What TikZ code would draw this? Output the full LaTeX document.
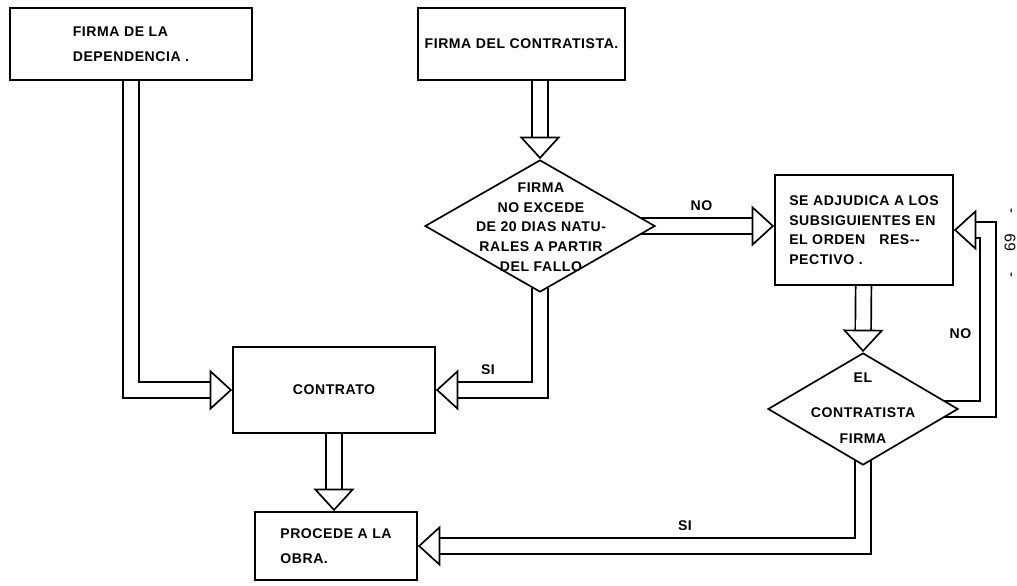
\documentclass[tikz,border=0pt]{standalone}
\usepackage{fontspec}
\setmainfont{Liberation Sans}[LetterSpace=4]
\usepackage{tikz}
\usetikzlibrary{shapes.geometric, arrows.meta, positioning, backgrounds}
\newcommand{\letrero}{\fontsize{10}{14}\selectfont\bfseries}
\tikzset{
    caja/.style={
        rectangle, draw=black, line width=1.2pt, fill=white, inner sep=0pt,
        align=left, font=\letrero
    },
    decision/.style={
        diamond, draw=black, line width=1.2pt, fill=white, inner sep=0pt
    },
    texto/.style={
        align=center, font=\letrero
    },
    flecha/.style={
        line width=1.2pt, double=white, double distance=10pt,
        -{Triangle[open, length=16pt, width=29pt]}
    },
    rotulo/.style={
        font=\letrero
    }
}

\begin{document}
\begin{tikzpicture}[x=0.025cm, y=-0.025cm]
    \useasboundingbox (0,0) rectangle (1017,585);

    \node[caja, minimum width=6.05cm, minimum height=1.8cm] (dep) at (131, 44) {FIRMA DE LA\\[4pt]DEPENDENCIA .};
    \node[caja, minimum width=5.18cm, minimum height=1.8cm] (contra) at (521.5, 44) {FIRMA DEL CONTRATISTA.};
    \node[decision, minimum width=5.75cm, minimum height=3.3cm] (plazo) at (540, 226) {};
    \node[texto] (plazo-txt) at (541, 227) {FIRMA\\NO EXCEDE\\DE 20 DIAS NATU-\\RALES A PARTIR\\DEL FALLO};
    \node[caja, minimum width=4.45cm, minimum height=2.75cm] (adj) at (864, 230) {SE ADJUDICA A LOS\\SUBSIGUIENTES EN\\EL ORDEN\quad RES-{}-\\PECTIVO .};
    \node[decision, minimum width=4.75cm, minimum height=2.8cm] (firma) at (863, 409) {};
    \node[texto] (firma-txt) at (863, 408) {EL\\[11pt]CONTRATISTA\\[4pt]FIRMA};
    \node[caja, minimum width=5.05cm, minimum height=2.15cm] (contrato) at (334, 390) {CONTRATO};
    \node[caja, minimum width=4.05cm, minimum height=1.7cm] (procede) at (336, 546) {PROCEDE A LA\\[4pt]OBRA.};
    \coordinate (giro) at (988, 230);

    \node[rotate=90, font=\fontsize{11}{13}\selectfont] (pagina) at (1010, 243) {-\quad\ 69\quad\ -};

    \begin{scope}[on background layer]
        \draw[flecha] (dep.center) |- (contrato.west);
        \draw[flecha] (contra.south -| plazo.north) -- (plazo.north);
        \draw[flecha] (plazo.center) |- node[rotulo, above=7pt, pos=0.75] {SI} (contrato.east);
        \draw[flecha] (plazo.center) -- node[rotulo, above=7pt, pos=0.69] {NO} (adj.west |- plazo.center);
        \draw[flecha] (adj.center) -- (firma.north);
        \draw[flecha] (firma.center) -| node[rotulo, left=8pt, pos=0.71] {NO} (giro) -- (adj.east);
        \draw[flecha] (firma.center) |- node[rotulo, above=7pt, pos=0.70] {SI} (procede.east);
        \draw[flecha] (contrato.center) -- (contrato.center |- procede.north);
    \end{scope}
\end{tikzpicture}
\end{document}
